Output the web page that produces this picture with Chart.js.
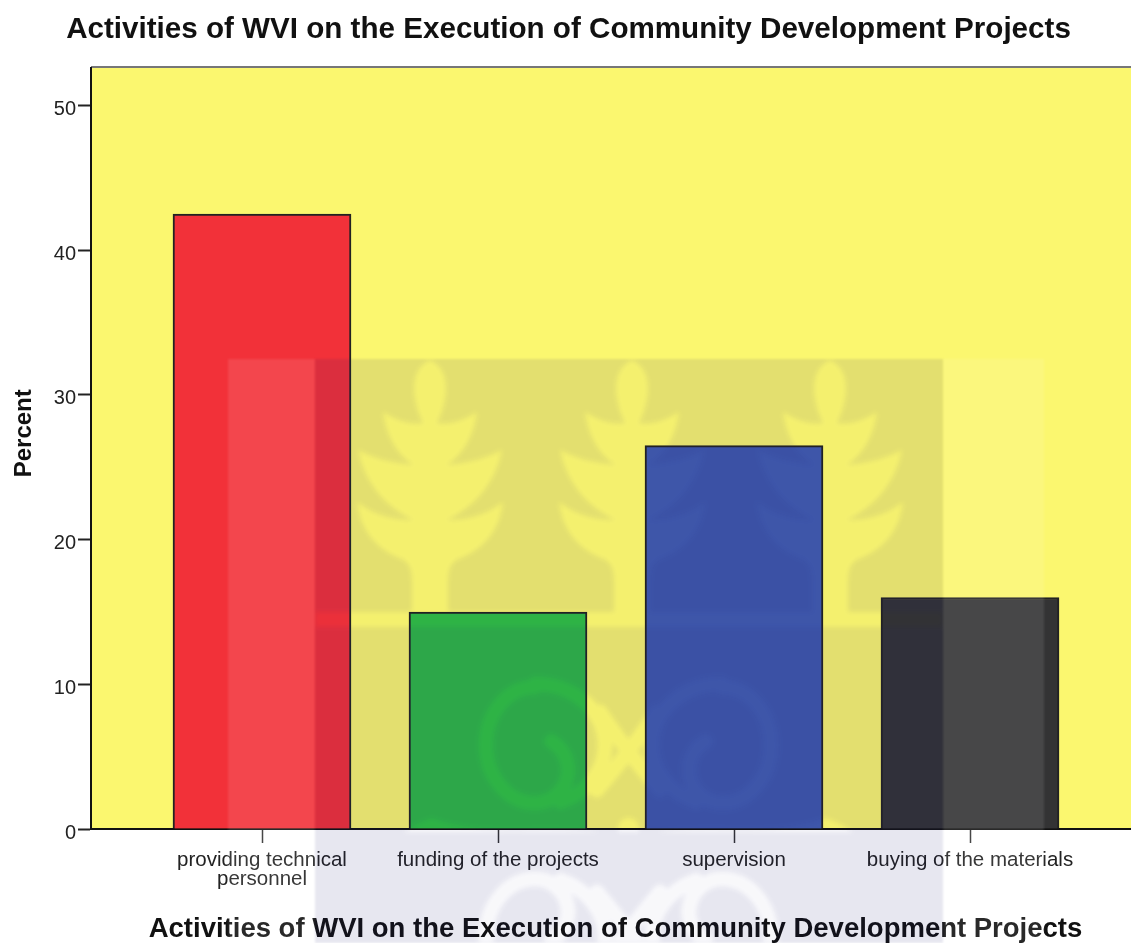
<!DOCTYPE html>
<html><head><meta charset="utf-8">
<style>html,body{margin:0;padding:0;background:#fff;overflow:hidden}canvas{display:block;filter:blur(0.35px)}</style>
<script src="https://cdn.jsdelivr.net/npm/chart.js@4"></script></head>
<body><canvas id="c" width="1131" height="943"></canvas>
<script>
const categories = [["providing technical","personnel"],"funding of the projects","supervision","buying of the materials"];
const percents = [42.5, 15, 26.5, 16];
const barColors = ["#F23139","#2FB845","#3F58AC","#333334"];
const yTicks = [0,10,20,30,40,50];
const chartTitle = "Activities of WVI on the Execution of Community Development Projects";
const xTitle = chartTitle;
const yTitle = "Percent";
const FONT = '"Liberation Sans", Arial, sans-serif';

const frame = {
  id:'frame',
  afterLayout(ch){
    const t = ch.titleBlock; if(t && !t._moved){t.left+=3;t.right+=3;t._moved=true;}
    const shift=(s,dx,dy)=>{ if(s._wrapped) return; const o=s.drawTitle; s.drawTitle=function(){const c=this.ctx;c.save();c.translate(dx,dy);o.call(this);c.restore();}; s._wrapped=true; };
    shift(ch.scales.y,10,-15); shift(ch.scales.x,4.5,5);
    const y=ch.scales.y;
    if(!y._labelsMoved){ const o=y._computeLabelItems; y._computeLabelItems=function(a){const items=o.call(this,a); items.forEach(i=>{i.options.translation[1]+=4;}); return items;}; y._labelsMoved=true; y._labelItems=null; }
  },
  beforeDraw(ch){
    const {ctx,chartArea:a}=ch; ctx.save();
    ctx.fillStyle='#FBF76F'; ctx.fillRect(a.left,a.top,a.right-a.left,a.bottom-a.top);
    ctx.strokeStyle='#777'; ctx.lineWidth=2; ctx.beginPath(); ctx.moveTo(a.left,a.top-0.5); ctx.lineTo(a.right,a.top-0.5); ctx.stroke();
    ctx.restore();
  }
};

function palm(g,cx){
  const half=s=>(d=>cx+s*d);
  let P=half(1);
  g.beginPath(); g.moveTo(cx,360);
  g.quadraticCurveTo(P(17),368,P(16),392);
  g.quadraticCurveTo(P(14),410,P(7),423);
  g.quadraticCurveTo(P(25),426,P(47),412);
  g.quadraticCurveTo(P(42),448,P(17),465);
  g.quadraticCurveTo(P(50),462,P(72),450);
  g.quadraticCurveTo(P(62),498,P(17),520);
  g.quadraticCurveTo(P(50),520,P(73),502);
  g.quadraticCurveTo(P(68),545,P(26),560);
  g.quadraticCurveTo(P(18),566,P(18),580);
  g.lineTo(P(18),612);
  P=half(-1);
  g.lineTo(P(18),612); g.lineTo(P(18),580); g.quadraticCurveTo(P(18),566,P(26),560);
  g.quadraticCurveTo(P(68),545,P(73),502); g.quadraticCurveTo(P(50),520,P(17),520);
  g.quadraticCurveTo(P(62),498,P(72),450); g.quadraticCurveTo(P(50),462,P(17),465);
  g.quadraticCurveTo(P(42),448,P(47),412); g.quadraticCurveTo(P(25),426,P(7),423);
  g.quadraticCurveTo(P(14),410,P(16),392); g.quadraticCurveTo(P(17),368,cx,360);
  g.closePath(); g.fill();
}
function scroll(g){
  g.lineWidth=15;
  g.beginPath();
  g.ellipse(535,770,33,33,0,-Math.PI/3,Math.PI/2);
  g.ellipse(535,745,49,58,0,Math.PI/2,Math.PI*1.5);
  g.ellipse(535,745,70,61,0,Math.PI*1.5,Math.PI*2.38);
  g.stroke();
  g.beginPath(); g.moveTo(600,712); g.quadraticCurveTo(622,745,660,790); g.stroke();
}
function ornaments(g){
  g.lineCap='round'; g.lineJoin='round'; g.strokeStyle='#000'; g.fillStyle='#000';
  const mirror=f=>{g.save();f();g.restore();g.save();g.translate(1257,0);g.scale(-1,1);f();g.restore();};
  mirror(()=>{
    g.save(); g.beginPath(); g.rect(0,0,1131,832); g.clip(); scroll(g);
    g.beginPath(); g.moveTo(404,832); g.quadraticCurveTo(418,822,432,818); g.quadraticCurveTo(470,832,530,829);
    g.quadraticCurveTo(570,828,600,832); g.closePath(); g.fill();
    g.beginPath(); g.arc(628,828,10,0,Math.PI*2); g.fill();
    g.restore();
    g.save(); g.beginPath(); g.rect(0,832,1131,111); g.clip();
    g.translate(0,1682); g.scale(1,-1); scroll(g); g.restore();
  });
}
const watermark = {
  id:'watermark',
  afterDraw(ch){
    const ctx=ch.ctx, W=ch.width, H=ch.height;
    const off=document.createElement('canvas'); off.width=W; off.height=H;
    const g=off.getContext('2d');
    g.fillStyle='rgba(30,30,112,0.105)'; g.fillRect(315,359,628,H-359);
    const cut=document.createElement('canvas'); cut.width=W; cut.height=H;
    const k=cut.getContext('2d'); k.fillStyle='#000';
    [430,632,830].forEach(x=>palm(k,x));
    k.fillRect(315,612,628,15);
    ornaments(k);
    g.globalCompositeOperation='destination-out';
    g.globalAlpha=0.72; g.filter='blur(2px)';
    g.drawImage(cut,0,0);
    ctx.save();
    ctx.filter='blur(1px)';
    ctx.fillStyle='rgba(255,255,255,0.1)';
    ctx.fillRect(228,359,87,H-359); ctx.fillRect(943,359,101,H-359);
    ctx.drawImage(off,0,0);
    ctx.restore();
  }
};

new Chart(document.getElementById('c'),{
  type:'bar',
  data:{datasets:[{
    data:percents.map((v,i)=>({x:i,y:v})),
    backgroundColor:barColors, borderColor:'#222', borderWidth:2, barThickness:178
  }]},
  plugins:[frame,watermark],
  options:{
    responsive:false, animation:false,
    layout:{padding:0},
    plugins:{
      legend:{display:false}, tooltip:{enabled:false},
      title:{display:true,text:chartTitle,color:'#111',font:{family:FONT,size:29.6,weight:'bold',lineHeight:1.2},padding:{top:12,bottom:20}}
    },
    scales:{
      x:{type:'linear',min:-171/236,max:869/236,offset:false,
        grid:{offset:false,drawOnChartArea:false,drawTicks:true,tickLength:14,tickColor:'#333',tickWidth:1.5},
        border:{color:'#111',width:2},
        afterFit(s){s.height=114;},
        ticks:{stepSize:1,includeBounds:false,autoSkip:false,maxRotation:0,minRotation:0,padding:8,color:'#222',
          font:{family:FONT,size:20.5,lineHeight:0.92},
          callback:v=>categories[v]},
        title:{display:true,text:xTitle,color:'#111',font:{family:FONT,size:27.5,weight:'bold',lineHeight:1.2},padding:{top:0,bottom:2}}
      },
      y:{min:0,max:761/14.46,
        afterFit(s){s.width=91;},
        afterBuildTicks(s){s.ticks=yTicks.map(v=>({value:v}));},
        grid:{drawOnChartArea:false,drawTicks:true,tickLength:13,tickColor:'#222',tickWidth:2},
        border:{color:'#111',width:2},
        ticks:{padding:2,color:'#222',font:{family:FONT,size:20}},
        title:{display:true,text:yTitle,color:'#111',font:{family:FONT,size:24,weight:'bold'},padding:{top:0,bottom:0}}
      }
    }
  }
});
</script></body></html>
